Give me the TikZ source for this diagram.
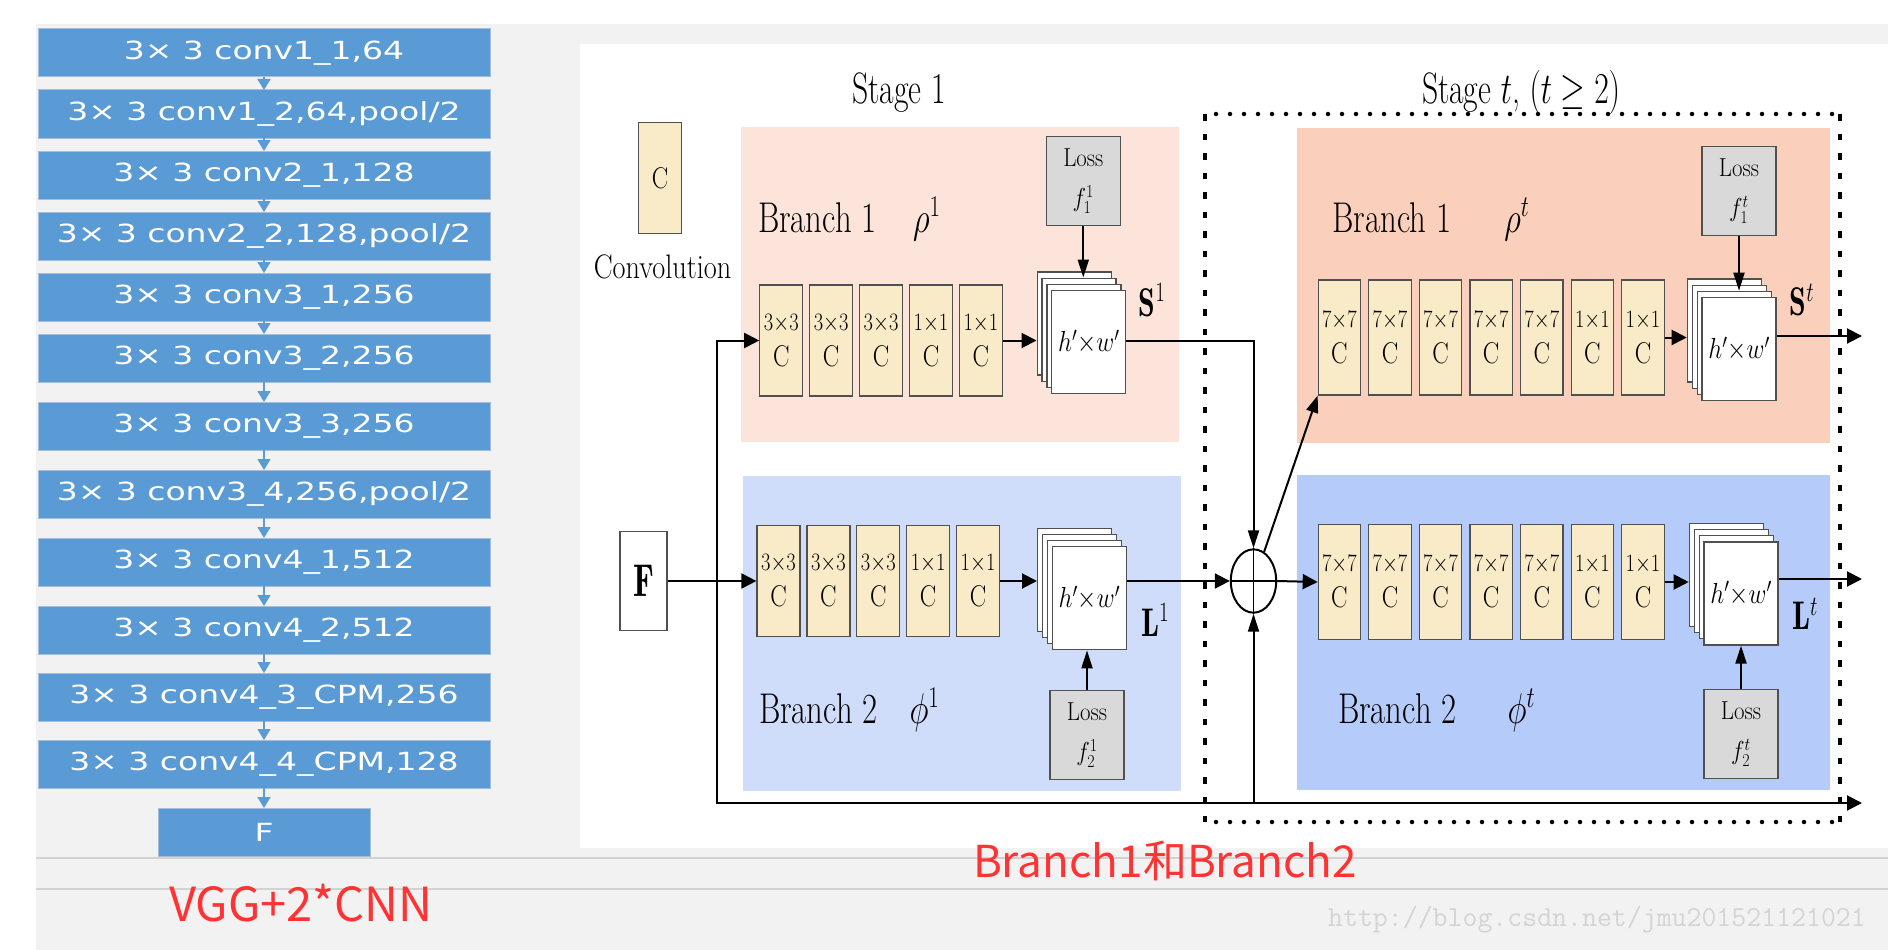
\RequirePackage{fix-cm}
\documentclass[tikz,border=0pt]{standalone}
\usepackage{amsmath}
\usepackage{graphicx}
\usepackage{fontspec}
\usepackage{xcolor}
\usetikzlibrary{positioning}
\usetikzlibrary{calc}
\usetikzlibrary{arrows.meta}
\usetikzlibrary{shapes.geometric}
\newfontfamily\uifont{DejaVu Sans}
\newfontfamily\cjkfont{Noto Sans CJK SC}
\definecolor{vggblue}{RGB}{91,155,213}
\definecolor{vggedge}{RGB}{165,190,220}
\definecolor{uigray}{RGB}{242,242,242}
\definecolor{uiline}{RGB}{210,210,210}
\definecolor{pinkone}{RGB}{252,228,218}
\definecolor{pinkt}{RGB}{250,207,187}
\definecolor{blueone}{RGB}{207,221,251}
\definecolor{bluet}{RGB}{181,203,250}
\definecolor{convfill}{RGB}{250,235,200}
\definecolor{convedge}{RGB}{80,80,80}
\definecolor{lossfill}{RGB}{217,217,217}
\definecolor{redtxt}{RGB}{255,51,51}
\definecolor{wmark}{RGB}{212,212,212}
\newcommand{\nar}[2][0.72]{\scalebox{#1}[1]{#2}}
\newcommand{\wide}[1]{\scalebox{1.32}[1]{#1}}
\newcommand{\cv}[1]{\nar[0.82]{$#1{\times}#1$}\\\nar[0.82]{\fontsize{30}{30}\selectfont C}}
\newcommand{\hw}{\nar[0.85]{$h'{\times}w'$}}
\tikzset{
    vgg/.style={draw=vggedge, line width=1pt, fill=vggblue, text=white, outer sep=0pt,
        minimum width=452pt, minimum height=48pt, inner sep=0pt,
        font=\uifont\fontsize{25}{25}\selectfont},
    vggarr/.style={draw=vggblue, line width=1.5pt, -{Triangle[length=11pt,width=13pt]}},
    conv/.style={draw=convedge, fill=convfill, line width=1.2pt, minimum width=43pt,
        minimum height=111pt, inner sep=0pt, align=center, font=\fontsize{25}{36}\selectfont},
    convt/.style={conv, minimum width=42.3pt, minimum height=115pt},
    loss/.style={draw=convedge, fill=lossfill, line width=1.2pt, minimum width=74pt,
        minimum height=89pt, inner sep=0pt, align=center, font=\fontsize{26}{40}\selectfont},
    sheet/.style={draw=convedge, fill=white, line width=1.2pt, minimum width=74pt,
        minimum height=103pt, inner sep=0pt, font=\fontsize{29}{29}\selectfont},
    branch/.style={anchor=base west, inner sep=0pt, font=\fontsize{43}{43}\selectfont},
    outlbl/.style={inner sep=0pt, font=\fontsize{40}{40}\selectfont},
    redlbl/.style={text=redtxt, inner sep=0pt, font=\cjkfont\fontsize{44}{44}\selectfont},
    harrow/.style={-{Triangle[length=15pt,width=15pt]}},
    varrow/.style={-{Triangle[length=18pt,width=11pt]}},
    darrow/.style={-{Triangle[length=17pt,width=12pt]}},
    dotsH/.style={line width=4.5pt, line cap=round, dash pattern=on 0pt off 14pt},
    dotsV/.style={line width=3.5pt, dash pattern=on 6.5pt off 13pt}
}
\begin{document}
\begin{tikzpicture}[x=1pt, y=-1pt, line width=2pt]
    \useasboundingbox (0,0) rectangle (1888,950);
    \fill[white] (0,0) rectangle (1888,950);
    \fill[uigray] (36,24) rectangle (1888,950);
    \fill[white] (580,44) rectangle (1888,848);
    \draw[uiline, line width=1.5pt] (36,858) -- (1888,858);
    \draw[uiline, line width=1.5pt] (36,889) -- (1888,889);

    % VGG front end
    \node[vgg] (v1) at (264,53) {\wide{3× 3 conv1\_1,64}};
    \node[vgg, below=13pt of v1] (v2) {\wide{3× 3 conv1\_2,64,pool/2}};
    \node[vgg, below=13pt of v2] (v3) {\wide{3× 3 conv2\_1,128}};
    \node[vgg, below=13pt of v3] (v4) {\wide{3× 3 conv2\_2,128,pool/2}};
    \node[vgg, below=13pt of v4] (v5) {\wide{3× 3 conv3\_1,256}};
    \node[vgg, below=13pt of v5] (v6) {\wide{3× 3 conv3\_2,256}};
    \node[vgg, below=20pt of v6] (v7) {\wide{3× 3 conv3\_3,256}};
    \node[vgg, below=20pt of v7] (v8) {\wide{3× 3 conv3\_4,256,pool/2}};
    \node[vgg, below=20pt of v8] (v9) {\wide{3× 3 conv4\_1,512}};
    \node[vgg, below=20pt of v9] (v10) {\wide{3× 3 conv4\_2,512}};
    \node[vgg, below=19pt of v10] (v11) {\wide{3× 3 conv4\_3\_CPM,256}};
    \node[vgg, below=19pt of v11] (v12) {\wide{3× 3 conv4\_4\_CPM,128}};
    \node[vgg, minimum width=212pt, below=20pt of v12] (vF) {\wide{F}};

    \path (v1) edge[vggarr] (v2);
    \path (v2) edge[vggarr] (v3);
    \path (v3) edge[vggarr] (v4);
    \path (v4) edge[vggarr] (v5);
    \path (v5) edge[vggarr] (v6);
    \path (v6) edge[vggarr] (v7);
    \path (v7) edge[vggarr] (v8);
    \path (v8) edge[vggarr] (v9);
    \path (v9) edge[vggarr] (v10);
    \path (v10) edge[vggarr] (v11);
    \path (v11) edge[vggarr] (v12);
    \path (v12) edge[vggarr] (vF);

    \node[redlbl, font=\cjkfont\fontsize{47}{47}\selectfont] (vgglbl) at (301,903) {VGG+2*CNN};
    \node[redlbl] (brlbl) at (1165,861) {Branch1和Branch2};
    \node[text=wmark, inner sep=0pt, font=\ttfamily\fontsize{29}{29}\selectfont] (wm) at (1597,920)
        {http://blog.csdn.net/jmu201521121021};

    % branch panels
    \fill[pinkone] (741,127) rectangle (1179,442);
    \fill[blueone] (743,476) rectangle (1181,791);
    \fill[pinkt] (1297,128) rectangle (1830,443);
    \fill[bluet] (1297,475) rectangle (1830,790);

    \draw[dotsH] (1216,114) -- (1840,114);
    \draw[dotsH] (1216,822) -- (1840,822);
    \draw[dotsV] (1205,114) -- (1205,822);
    \draw[dotsV] (1840,114) -- (1840,822);

    \node[anchor=base, inner sep=0pt, font=\fontsize{44}{44}\selectfont] (stg1) at (899,103) {\nar{Stage 1}};
    \node[anchor=base, inner sep=0pt, font=\fontsize{44}{44}\selectfont] (stgt) at (1521,103)
        {\nar{Stage $t$, $(t \geq 2)$}};

    \node[conv, font=\fontsize{30}{30}\selectfont] (legend) at (660,178) {\nar[0.82]{C}};
    \node[inner sep=0pt, font=\fontsize{34}{34}\selectfont] (convlbl) at (662.5,267) {\nar[0.83]{Convolution}};

    \node[branch] (b11) at (757,232) {\nar[0.76]{Branch 1\hspace{48pt}$\rho^{1}$}};
    \node[branch] (b21) at (758,723) {\nar[0.76]{Branch 2\hspace{42pt}$\phi^{1}$}};
    \node[branch] (b1t) at (1331.6,232) {\nar[0.76]{Branch 1\hspace{70pt}$\rho^{t}$}};
    \node[branch] (b2t) at (1337,723) {\nar[0.76]{Branch 2\hspace{67pt}$\phi^{t}$}};

    % stage 1 convolutions
    \node[conv] (c11) at (781.3,340.5) {\cv{3}};
    \node[conv, right=5.7pt of c11] (c12) {\cv{3}};
    \node[conv, right=5.7pt of c12] (c13) {\cv{3}};
    \node[conv, right=5.7pt of c13] (c14) {\cv{1}};
    \node[conv, right=5.7pt of c14] (c15) {\cv{1}};
    \node[conv] (c21) at (778.5,581) {\cv{3}};
    \node[conv, right=5.7pt of c21] (c22) {\cv{3}};
    \node[conv, right=5.7pt of c22] (c23) {\cv{3}};
    \node[conv, right=5.7pt of c23] (c24) {\cv{1}};
    \node[conv, right=5.7pt of c24] (c25) {\cv{1}};

    % stage t convolutions
    \node[convt] (ct11) at (1339.4,337.5) {\cv{7}};
    \node[convt, right=7.1pt of ct11] (ct12) {\cv{7}};
    \node[convt, right=7.1pt of ct12] (ct13) {\cv{7}};
    \node[convt, right=7.1pt of ct13] (ct14) {\cv{7}};
    \node[convt, right=7.1pt of ct14] (ct15) {\cv{7}};
    \node[convt, right=7.1pt of ct15] (ct16) {\cv{1}};
    \node[convt, right=7.1pt of ct16] (ct17) {\cv{1}};
    \node[convt] (ct21) at (1339.4,582) {\cv{7}};
    \node[convt, right=7.1pt of ct21] (ct22) {\cv{7}};
    \node[convt, right=7.1pt of ct22] (ct23) {\cv{7}};
    \node[convt, right=7.1pt of ct23] (ct24) {\cv{7}};
    \node[convt, right=7.1pt of ct24] (ct25) {\cv{7}};
    \node[convt, right=7.1pt of ct25] (ct26) {\cv{1}};
    \node[convt, right=7.1pt of ct26] (ct27) {\cv{1}};

    % output stacks
    \coordinate (s1pos) at (1088.8,342);
    \node[sheet] (s1c) at ([shift={(-14.7pt,18.6pt)}]s1pos) {};
    \node[sheet] (s1b) at ([shift={(-9.8pt,12.4pt)}]s1pos) {};
    \node[sheet] (s1a) at ([shift={(-4.9pt,6.2pt)}]s1pos) {};
    \node[sheet] (s1) at (s1pos) {\hw};
    \coordinate (l1pos) at (1089.3,598.3);
    \node[sheet] (l1c) at ([shift={(-14.7pt,18.6pt)}]l1pos) {};
    \node[sheet] (l1b) at ([shift={(-9.8pt,12.4pt)}]l1pos) {};
    \node[sheet] (l1a) at ([shift={(-4.9pt,6.2pt)}]l1pos) {};
    \node[sheet] (l1) at (l1pos) {\hw};
    \coordinate (stpos) at (1739,349);
    \node[sheet] (stc) at ([shift={(-14.7pt,18.6pt)}]stpos) {};
    \node[sheet] (stb) at ([shift={(-9.8pt,12.4pt)}]stpos) {};
    \node[sheet] (sta) at ([shift={(-4.9pt,6.2pt)}]stpos) {};
    \node[sheet] (st) at (stpos) {\hw};
    \coordinate (ltpos) at (1741,593.5);
    \node[sheet] (ltc) at ([shift={(-14.7pt,18.6pt)}]ltpos) {};
    \node[sheet] (ltb) at ([shift={(-9.8pt,12.4pt)}]ltpos) {};
    \node[sheet] (lta) at ([shift={(-4.9pt,6.2pt)}]ltpos) {};
    \node[sheet] (lt) at (ltpos) {\hw};

    \node[outlbl] (s1lbl) at (1152,300) {\nar[0.75]{$\mathbf{S}^{1}$}};
    \node[outlbl] (l1lbl) at (1155,620) {\nar[0.75]{$\mathbf{L}^{1}$}};
    \node[outlbl] (stlbl) at (1802,300) {\nar[0.75]{$\mathbf{S}^{t}$}};
    \node[outlbl] (ltlbl) at (1805,614) {\nar[0.75]{$\mathbf{L}^{t}$}};

    % losses
    \node[loss] (loss11) at (1083.3,181) {\nar[0.88]{Loss}\\\nar[0.88]{$f_1^1$}};
    \node[loss] (loss21) at (1087,735) {\nar[0.88]{Loss}\\\nar[0.88]{$f_2^1$}};
    \node[loss] (losst1) at (1739,191) {\nar[0.88]{Loss}\\\nar[0.88]{$f_1^t$}};
    \node[loss] (losst2) at (1741,734) {\nar[0.88]{Loss}\\\nar[0.88]{$f_2^t$}};

    % input and sum
    \node[draw=convedge, fill=white, line width=1.2pt, minimum width=47pt, minimum height=99pt,
        inner sep=0pt, font=\fontsize{46}{46}\selectfont] (F) at (643.5,581) {\nar{$\mathbf{F}$}};
    \node[draw, ellipse, line width=2pt, minimum width=45.4pt, minimum height=63.4pt,
        inner sep=0pt] (plus) at (1253.5,581) {};
    \draw[line width=1.5pt] (plus.north) -- (plus.south);
    \draw[line width=1.5pt] (plus.west) -- (plus.east);

    \coordinate (split) at (717,581);
    \coordinate (tail) at (1862,803);
    \coordinate (join) at (plus |- tail);
    \coordinate (outS) at (1862,336);
    \coordinate (outL) at (1862,579);

    \draw[harrow] (F.east) -- (c21.west);
    \draw[harrow] (split) |- (c11.west);
    \draw[harrow] (split) |- (tail);
    \draw[varrow] (join) -- (plus.south);
    \draw[harrow] (c15.east) -- (c15.east -| s1c.west);
    \draw[harrow] (c25.east) -- (c25.east -| l1c.west);
    \draw[varrow] (loss11.south) -- (loss11.south |- s1b.north);
    \draw[varrow] (loss21.north) -- (loss21.north |- l1.south);
    \draw[varrow] (s1.east |- c15.east) -| (plus.north);
    \draw[harrow] (l1.east |- c25.east) -- (plus.west);
    \draw[harrow] (plus.east) -- (ct21.west);
    \draw[darrow] (plus.70) -- (ct11.south west);
    \draw[harrow] (ct17.east) -- (ct17.east -| stc.west);
    \draw[harrow] (ct27.east) -- (ct27.east -| ltc.west);
    \draw[varrow] (losst1.south) -- (losst1.south |- sta.north);
    \draw[varrow] (losst2.north) -- (losst2.north |- lt.south);
    \draw[harrow] (st.east |- outS) -- (outS);
    \draw[harrow] (lt.east |- outL) -- (outL);
\end{tikzpicture}
\end{document}
